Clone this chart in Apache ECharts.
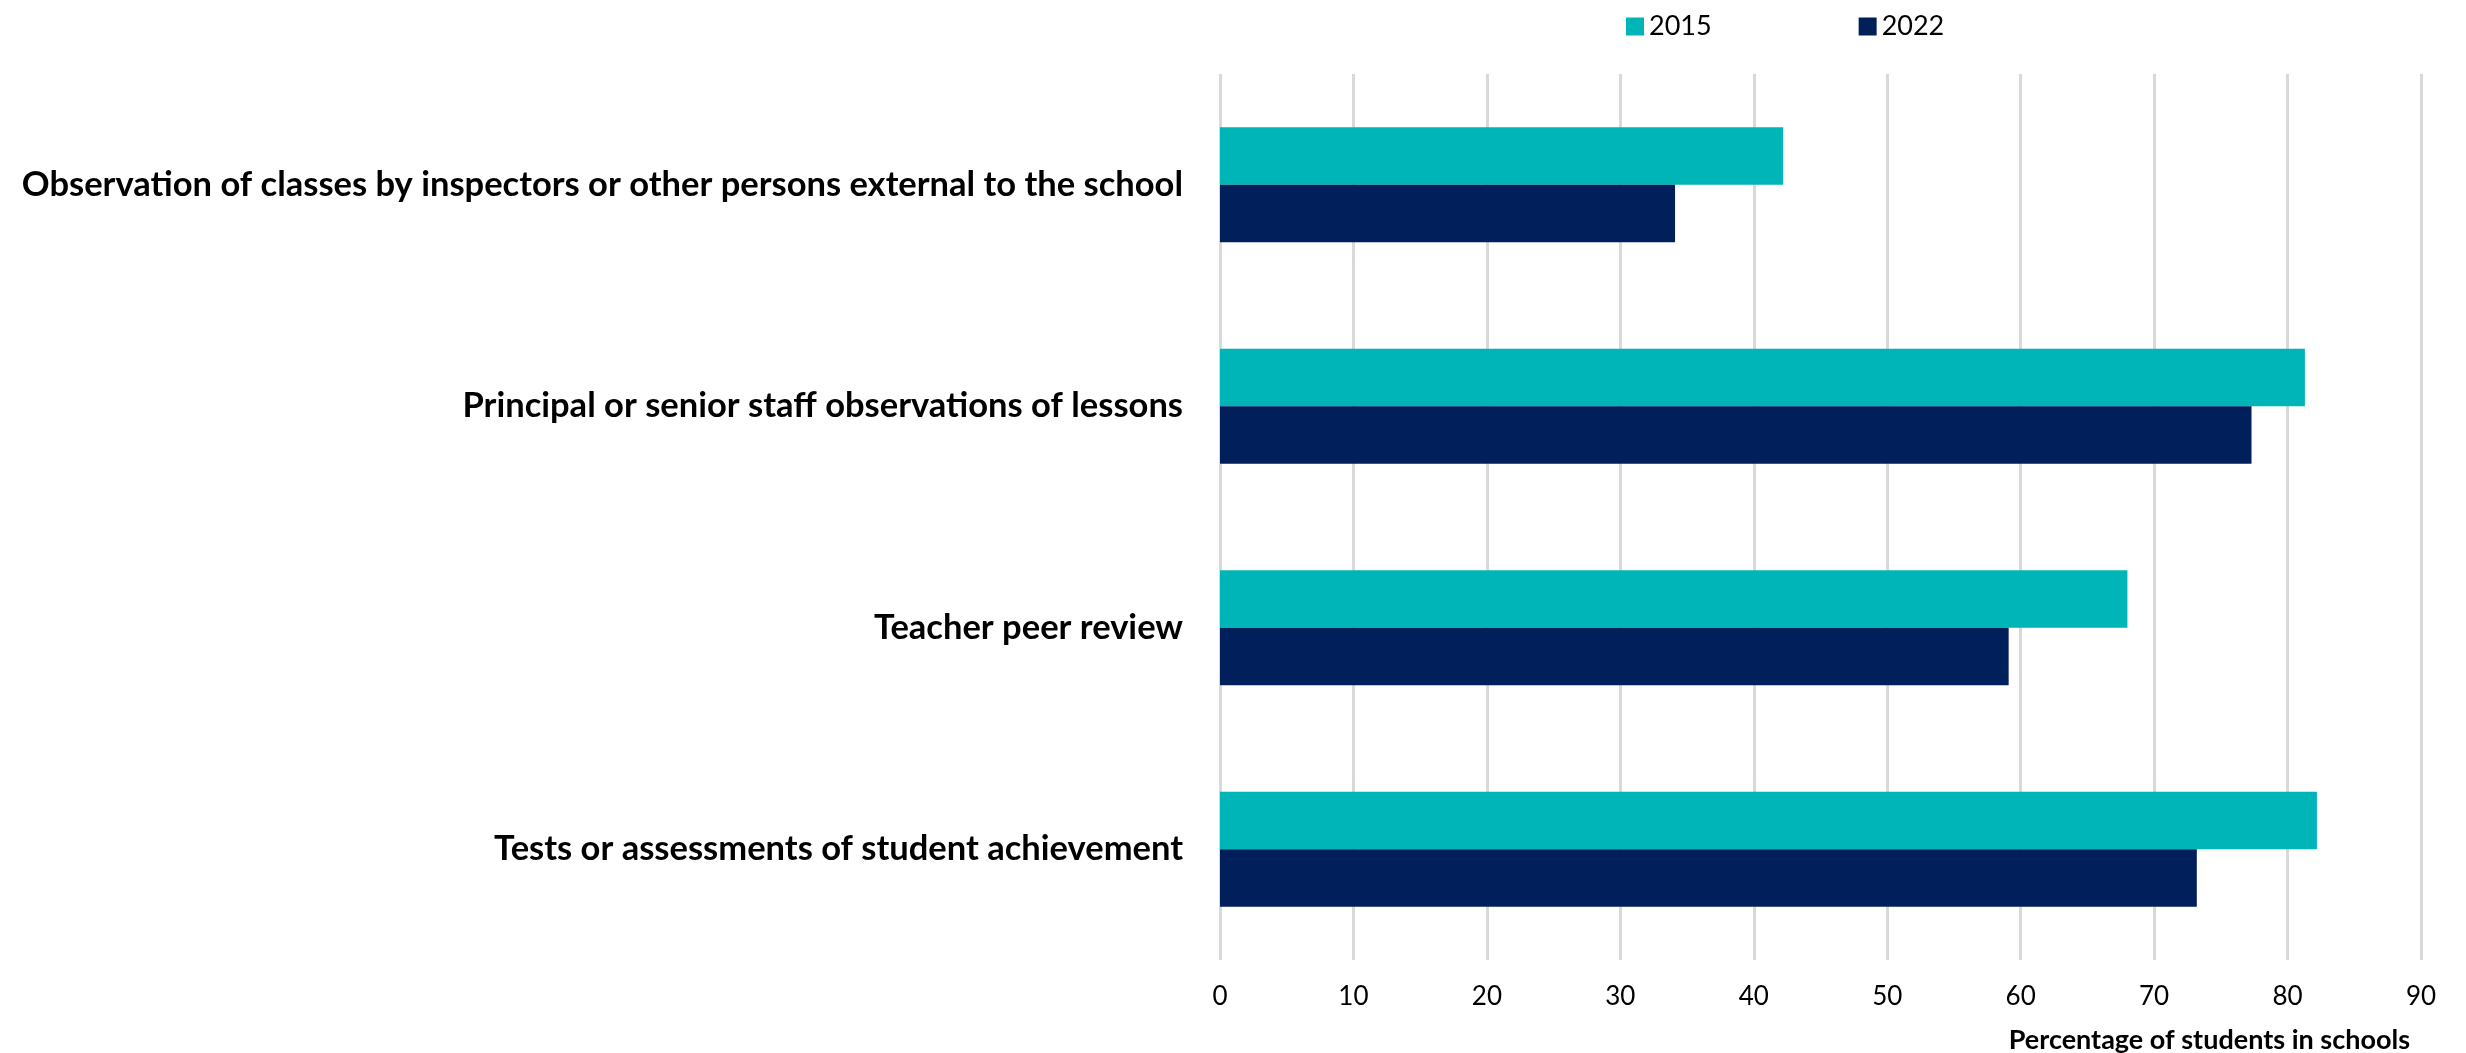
<!DOCTYPE html>
<html>
<head>
<meta charset="utf-8">
<title>Teacher appraisal methods, 2015 and 2022</title>
<script src="https://cdn.jsdelivr.net/npm/echarts@6/dist/echarts.min.js"></script>
<style>
  html, body { margin: 0; padding: 0; background: #ffffff; }
  #chart { width: 2466px; height: 1053px; }
</style>
</head>
<body>
<div id="chart"></div>
<script>
// Appraisal methods (top to bottom)
const categories = [
  'Observation of classes by inspectors or other persons external to the school',
  'Principal or senior staff observations of lessons',
  'Teacher peer review',
  'Tests or assessments of student achievement'
];
const seriesNames = ['2015', '2022'];
const values2015 = [42.2, 81.3, 68.0, 82.2];
const values2022 = [34.1, 77.3, 59.1, 73.2];
const xTicks = [0, 10, 20, 30, 40, 50, 60, 70, 80, 90];
const axisTitle = 'Percentage of students in schools';

const FONT = 'Lato, "Open Sans", "Liberation Sans", sans-serif';
const TEAL = '#00b5b8';
const NAVY = '#001f5b';

const chart = echarts.init(document.getElementById('chart'), null, { renderer: 'canvas' });

chart.setOption({
  animation: false,
  backgroundColor: '#ffffff',
  color: [TEAL, NAVY],
  textStyle: { fontFamily: FONT },
  title: {
    text: axisTitle,
    right: 51,
    top: 1022,
    textStyle: { fontFamily: FONT, fontSize: 27, fontWeight: 'bold', color: '#000000' }
  },
  legend: {
    data: seriesNames,
    left: 1621,
    top: 8,
    icon: 'rect',
    itemWidth: 18,
    itemHeight: 18,
    itemGap: 147,
    textStyle: { fontFamily: FONT, fontSize: 27, color: '#000000', padding: [0, 0, 0, 0] }
  },
  grid: {
    left: 1220,
    right: 2466 - 2421,
    top: 74,
    bottom: 1053 - 960,
    containLabel: false
  },
  xAxis: {
    type: 'value',
    min: xTicks[0],
    max: xTicks[xTicks.length - 1],
    interval: 10,
    axisLine: { show: false },
    axisTick: { show: false },
    axisLabel: { fontFamily: FONT, fontSize: 26, color: '#000000', margin: 24 },
    splitLine: { show: true, lineStyle: { color: '#d9d9d9', width: 3 } }
  },
  yAxis: {
    type: 'category',
    data: categories,
    inverse: true,
    axisLine: { show: false },
    axisTick: { show: false },
    axisLabel: { fontFamily: FONT, fontSize: 34.5, fontWeight: 'bold', color: '#000000', margin: 37 }
  },
  series: [
    {
      name: seriesNames[0],
      type: 'bar',
      data: values2015,
      barGap: '0%',
      barCategoryGap: '48%',
      itemStyle: { color: TEAL }
    },
    {
      name: seriesNames[1],
      type: 'bar',
      data: values2022,
      barGap: '0%',
      barCategoryGap: '48%',
      itemStyle: { color: NAVY }
    }
  ]
});
</script>
</body>
</html>
